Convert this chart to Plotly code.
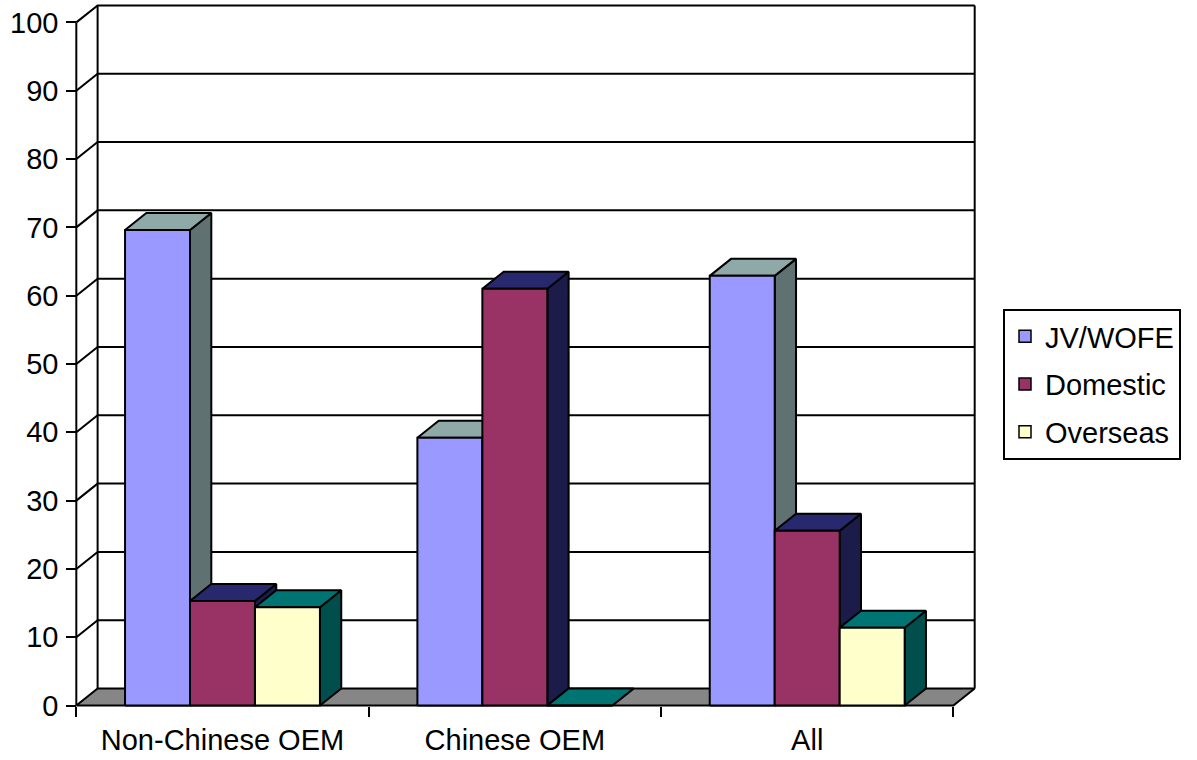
import plotly.graph_objects as go

# ---- data ----
categories = ["Non-Chinese OEM", "Chinese OEM", "All"]
series_names = ["JV/WOFE", "Domestic", "Overseas"]
jv_wofe = [69.6, 39.2, 62.9]
domestic = [15.3, 61.0, 25.6]
overseas = [14.4, 0.0, 11.4]
y_ticks = [0, 10, 20, 30, 40, 50, 60, 70, 80, 90, 100]

series_values = [jv_wofe, domestic, overseas]

# ---- style ----
front_colors = ["#9999FF", "#993366", "#FFFFCC"]
top_colors = ["#8FA9A9", "#28286E", "#007473"]
side_colors = ["#5F7171", "#1C1C4B", "#004F4C"]
floor_color = "#868686"
FONT = "Liberation Sans, Arial, sans-serif"
FS = 29

# 3D projection constants (in axis units)
PX_X = 292.3      # pixels per category
PX_Y = 6.83       # pixels per value unit
DX = 21.3 / PX_X  # depth offset x
DY = 17.0 / PX_Y  # depth offset y
BAR_W = 1 / 4.5
GAP = 0.75 * BAR_W
YMAX = 100
NCAT = len(categories)

xmin, xmax = -0.025, NCAT + DX + 0.025
ymin, ymax = -0.5, YMAX + DY + 0.35
front_left_px = 76.0
front_bottom_px = 705.7
W, H = 1197, 760
ml = front_left_px + xmin * PX_X
plot_w = (xmax - xmin) * PX_X
mr = W - ml - plot_w
mb = H - (front_bottom_px - ymin * PX_Y)
plot_h = (ymax - ymin) * PX_Y
mt = H - mb - plot_h

fig = go.Figure()
LW = 2

def poly(xs, ys, fill, lw=LW):
    fig.add_trace(go.Scatter(
        x=list(xs) + [xs[0]], y=list(ys) + [ys[0]], mode="lines", fill="toself",
        fillcolor=fill, line=dict(color="black", width=lw), showlegend=False,
        hoverinfo="skip"))

def line(xs, ys, lw=LW):
    fig.add_trace(go.Scatter(x=xs, y=ys, mode="lines",
                             line=dict(color="black", width=lw),
                             showlegend=False, hoverinfo="skip"))

# back wall outline + gridlines + side wall gridlines
gx, gy = [], []
for v in y_ticks[1:]:
    gx += [0, DX, NCAT + DX, None]
    gy += [v, v + DY, v + DY, None]
line(gx, gy)
line([DX, DX, None, NCAT + DX, NCAT + DX],
     [DY, YMAX + DY, None, DY, YMAX + DY])
# floor
poly([0, NCAT, NCAT + DX, DX], [0, 0, DY, DY], floor_color)
# front value axis line
line([0, 0], [0, YMAX])

# bars
for c in range(NCAT):
    for i, vals in enumerate(series_values):
        v = vals[c]
        x0 = c + GAP + i * BAR_W
        x1 = x0 + BAR_W
        poly([x1, x1 + DX, x1 + DX, x1], [0, DY, v + DY, v], side_colors[i])
        poly([x0, x1, x1 + DX, x0 + DX], [v, v, v + DY, v + DY], top_colors[i])
        poly([x0, x1, x1, x0], [0, 0, v, v], front_colors[i])

# legend entries
for i, name in enumerate(series_names):
    fig.add_trace(go.Bar(x=[None], y=[None], name=name, legendgroup=name,
                         marker=dict(color=front_colors[i],
                                     line=dict(color="black", width=1.5))))

fig.update_layout(
    width=W, height=H,
    margin=dict(l=ml, r=mr, t=mt, b=mb, pad=0),
    paper_bgcolor="white", plot_bgcolor="white",
    font=dict(family=FONT, size=FS, color="black"),
    showlegend=True,
    legend=dict(xref="container", yref="container",
                x=1003 / W, y=1 - 309 / H, xanchor="left", yanchor="top",
                bordercolor="black", borderwidth=2, bgcolor="white",
                font=dict(family=FONT, size=FS, color="black"),
                tracegroupgap=7, itemclick=False),
    xaxis=dict(range=[xmin, xmax], showgrid=False, zeroline=False,
               showline=False, anchor="free",
               position=(0 - ymin) / (ymax - ymin),
               tickvals=[c + 0.5 for c in range(NCAT)], ticktext=categories,
               ticks="", ticklabelstandoff=14,
               minor=dict(tickvals=list(range(NCAT + 1)), ticks="outside",
                          ticklen=10, tickwidth=2, tickcolor="black",
                          showgrid=False),
               tickfont=dict(family=FONT, size=FS, color="black")),
    yaxis=dict(range=[ymin, ymax], showgrid=False, zeroline=False,
               showline=False, anchor="free",
               position=(0 - xmin) / (xmax - xmin),
               tickvals=y_ticks, ticks="outside", ticklen=10, tickwidth=2,
               tickcolor="black", ticklabelstandoff=2,
               tickfont=dict(family=FONT, size=FS, color="black")),
)

fig.write_html("out.html")
